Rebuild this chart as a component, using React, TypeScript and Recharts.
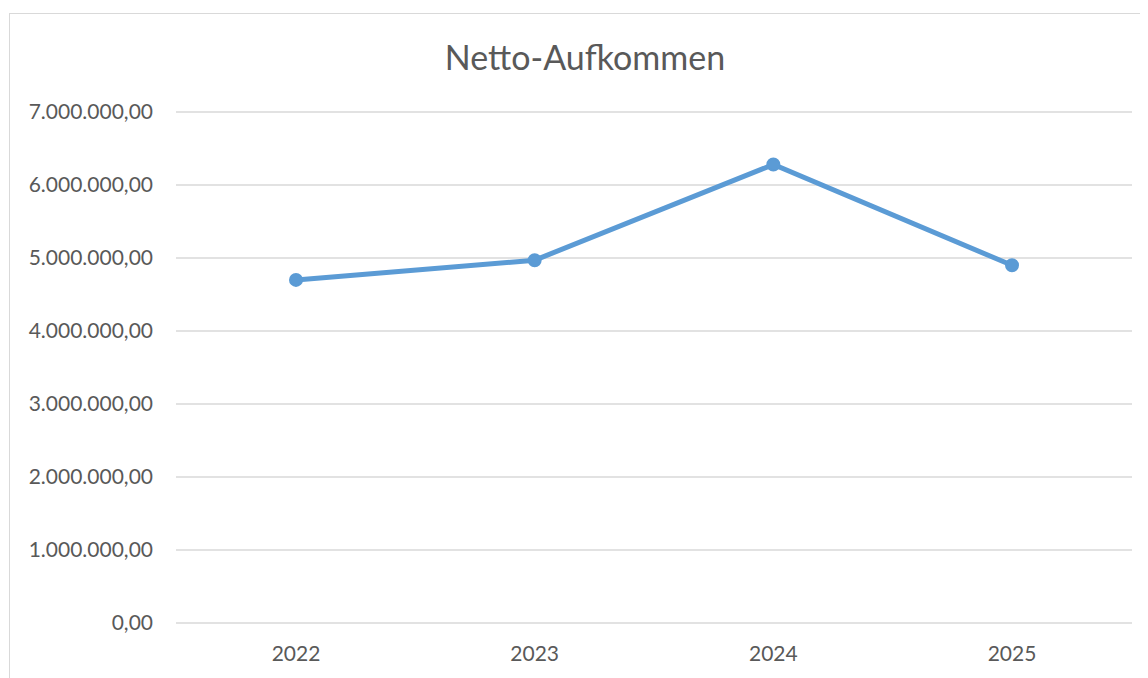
import { LineChart, Line, XAxis, YAxis, CartesianGrid } from "recharts";

const years = ["2022", "2023", "2024", "2025"];
const nettoAufkommen = [4700000, 4970000, 6280000, 4900000];
const yTicks = [0, 1000000, 2000000, 3000000, 4000000, 5000000, 6000000, 7000000];

const data = years.map((year, i) => ({ year, value: nettoAufkommen[i] }));

// 1234567 -> "1.234.567,00"
function formatDe(v: number) {
  const whole = Math.round(v)
    .toString()
    .replace(/\B(?=(\d{3})+(?!\d))/g, ".");
  return whole + ",00";
}

const textColor = "#595959";
const font = "Lato, 'Liberation Sans', Arial, sans-serif";

export default function App() {
  return (
    <div
      style={{
        position: "relative",
        width: 1150,
        height: 680,
        marginLeft: 1,
        marginTop: 5,
        borderLeft: "1px solid #d9d9d9",
        borderTop: "1px solid #d9d9d9",
        fontFamily: font,
      }}
    >
      <LineChart
        width={1138}
        height={664}
        data={data}
        margin={{ top: 98, right: 16, bottom: 15, left: 0 }}
      >
        <text
          x={575}
          y={56}
          textAnchor="middle"
          fill={textColor}
          fontSize={34}
          fontFamily={font}
        >
          Netto-Aufkommen
        </text>
        <CartesianGrid vertical={false} stroke="#d9d9d9" strokeWidth={1.3} />
        <XAxis
          dataKey="year"
          axisLine={false}
          tickLine={false}
          tickMargin={17}
          height={40}
          padding={{ left: 120, right: 120 }}
          tick={{ fill: textColor, fontSize: 21, fontFamily: font }}
        />
        <YAxis
          domain={[0, 7000000]}
          ticks={yTicks}
          interval={0}
          width={166}
          axisLine={false}
          tickLine={false}
          tickMargin={17}
          tickFormatter={formatDe}
          tick={{ fill: textColor, fontSize: 21, fontFamily: font }}
        />
        <Line
          dataKey="value"
          stroke="#5b9bd5"
          strokeWidth={5}
          dot={{ r: 6, fill: "#5b9bd5", stroke: "#5b9bd5", strokeWidth: 2 }}
          isAnimationActive={false}
        />
      </LineChart>
    </div>
  );
}
